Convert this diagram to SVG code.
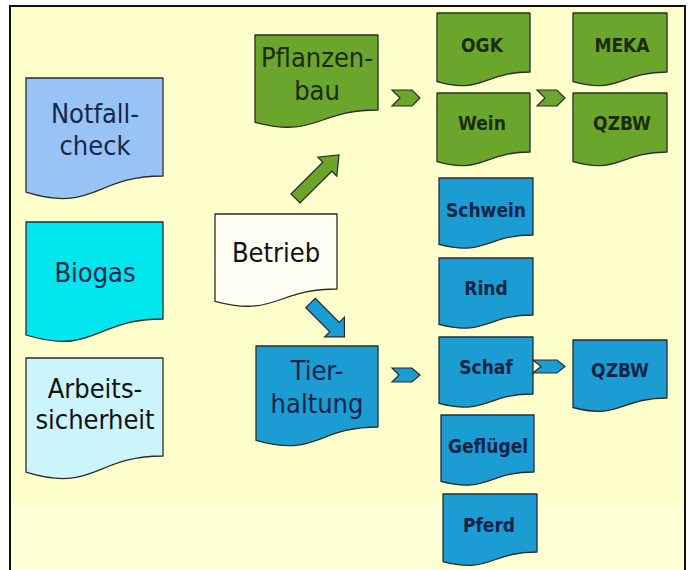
<svg xmlns="http://www.w3.org/2000/svg" width="691" height="570" viewBox="0 0 691 570">
<style>
.doc{stroke:#2b2b2b;stroke-width:1.3;stroke-linejoin:round}
.big{font-family:"DejaVu Sans Condensed","DejaVu Sans",sans-serif;font-size:27px;text-anchor:middle}
.small{font-family:"DejaVu Sans Condensed","DejaVu Sans",sans-serif;font-size:19px;font-weight:bold;text-anchor:middle}
.green{fill:#6aa62b}
.blue{fill:#1b9cd3}
.tg{fill:#1c2b0a}
.tb{fill:#0b2447}
.conn{stroke:#2b2b2b;stroke-width:1.2;stroke-linejoin:miter}
</style>
<rect x="0" y="0" width="691" height="570" fill="#ffffff"/>
<rect x="10" y="6" width="675" height="570" fill="#ffffcc"/>
<rect x="11" y="506" width="673" height="64" fill="#ffffd6"/>
<path d="M10,570 V6 H685 V570" fill="none" stroke="#111" stroke-width="2"/>

<g id="notfallcheck">
<path class="doc" fill="#99c3f5" d="M26,78 H163 V176 C94.5,176 94.5,213.3 26,192.1 Z"/>
<text class="big" fill="#14284a" x="95" y="123">Notfall-</text>
<text class="big" fill="#14284a" x="95" y="155">check</text>
</g>
<g id="biogas">
<path class="doc" fill="#00e6ee" d="M26,222 H163 V319 C94.5,319 94.5,355.9 26,335 Z"/>
<text class="big" fill="#0b2447" x="95" y="282">Biogas</text>
</g>
<g id="arbeitssicherheit">
<path class="doc" fill="#ccf4fc" d="M26,358 H163 V456 C94.5,456 94.5,493.3 26,472.1 Z"/>
<text class="big" fill="#111" x="95" y="398">Arbeits-</text>
<text class="big" fill="#111" x="95" y="429">sicherheit</text>
</g>
<g id="betrieb">
<path class="doc" fill="#fffff4" d="M215,214 H337 V289 C276,289 276,317.5 215,301.3 Z"/>
<text class="big" fill="#111" x="276" y="262">Betrieb</text>
</g>
<g id="pflanzenbau">
<path class="doc green" d="M255,35 H378 V110 C316.5,110 316.5,138.5 255,122.3 Z"/>
<text class="big tg" x="317" y="67">Pflanzen-</text>
<text class="big tg" x="317" y="100">bau</text>
</g>
<g id="tierhaltung">
<path class="doc blue" d="M256,346 H378 V427 C317,427 317,457.8 256,440.3 Z"/>
<text class="big tb" x="317" y="380">Tier-</text>
<text class="big tb" x="317" y="413">haltung</text>
</g>
<g id="ogk">
<path class="doc green" d="M437,13 H530 V72 C483.5,72 483.5,94.5 437,81.7 Z"/>
<text class="small tg" x="482" y="52">OGK</text>
</g>
<g id="meka">
<path class="doc green" d="M573,13 H667 V72 C620,72 620,94.5 573,81.7 Z"/>
<text class="small tg" x="622" y="52">MEKA</text>
</g>
<g id="wein">
<path class="doc green" d="M437,93 H530 V152 C483.5,152 483.5,174.5 437,161.7 Z"/>
<text class="small tg" x="482" y="130">Wein</text>
</g>
<g id="qzbw-pflanzen">
<path class="doc green" d="M573,93 H667 V152 C620,152 620,174.5 573,161.7 Z"/>
<text class="small tg" x="622" y="130">QZBW</text>
</g>
<g id="schwein">
<path class="doc blue" d="M439,178 H533 V235 C486,235 486,256.6 439,244.4 Z"/>
<text class="small tb" x="486" y="217">Schwein</text>
</g>
<g id="rind">
<path class="doc blue" d="M439,258 H533 V315 C486,315 486,336.6 439,324.4 Z"/>
<text class="small tb" x="486" y="295">Rind</text>
</g>
<g id="schaf">
<path class="doc blue" d="M439,337 H533 V394 C486,394 486,415.6 439,403.4 Z"/>
<text class="small tb" x="486" y="374">Schaf</text>
</g>
<g id="gefluegel">
<path class="doc blue" d="M441,415 H534 V472 C487.5,472 487.5,493.6 441,481.4 Z"/>
<text class="small tb" x="488" y="453">Geflügel</text>
</g>
<g id="pferd">
<path class="doc blue" d="M443,494 H537 V552 C490,552 490,574 443,561.6 Z"/>
<text class="small tb" x="489" y="532">Pferd</text>
</g>
<g id="qzbw-tier">
<path class="doc blue" d="M573,340 H667 V398 C620,398 620,420 573,407.5 Z"/>
<text class="small tb" x="620" y="377">QZBW</text>
</g>

<g id="connectors">
<polygon class="conn green" transform="translate(295.5,198.5) rotate(-45)" points="0,-6.4 45,-6.4 45,-13.4 61.5,0 45,13.4 45,6.4 0,6.4"/>
<polygon class="conn blue" transform="translate(310.5,303) rotate(45)" points="0,-6.7 34,-6.7 34,-14 48,0 34,14 34,6.7 0,6.7"/>
<polygon class="conn green" points="392,90 412,90 420,98 412,106 392,106 400,98"/>
<polygon class="conn green" points="537,90 557,90 565,98 557,106 537,106 545,98"/>
<polygon class="conn blue" points="392,368 412,368 420,375 412,382 392,382 399,375"/>
<polygon class="conn blue" points="533,360 557,360 565,366.5 557,373 533,373 541,366.5"/>
</g>
</svg>
